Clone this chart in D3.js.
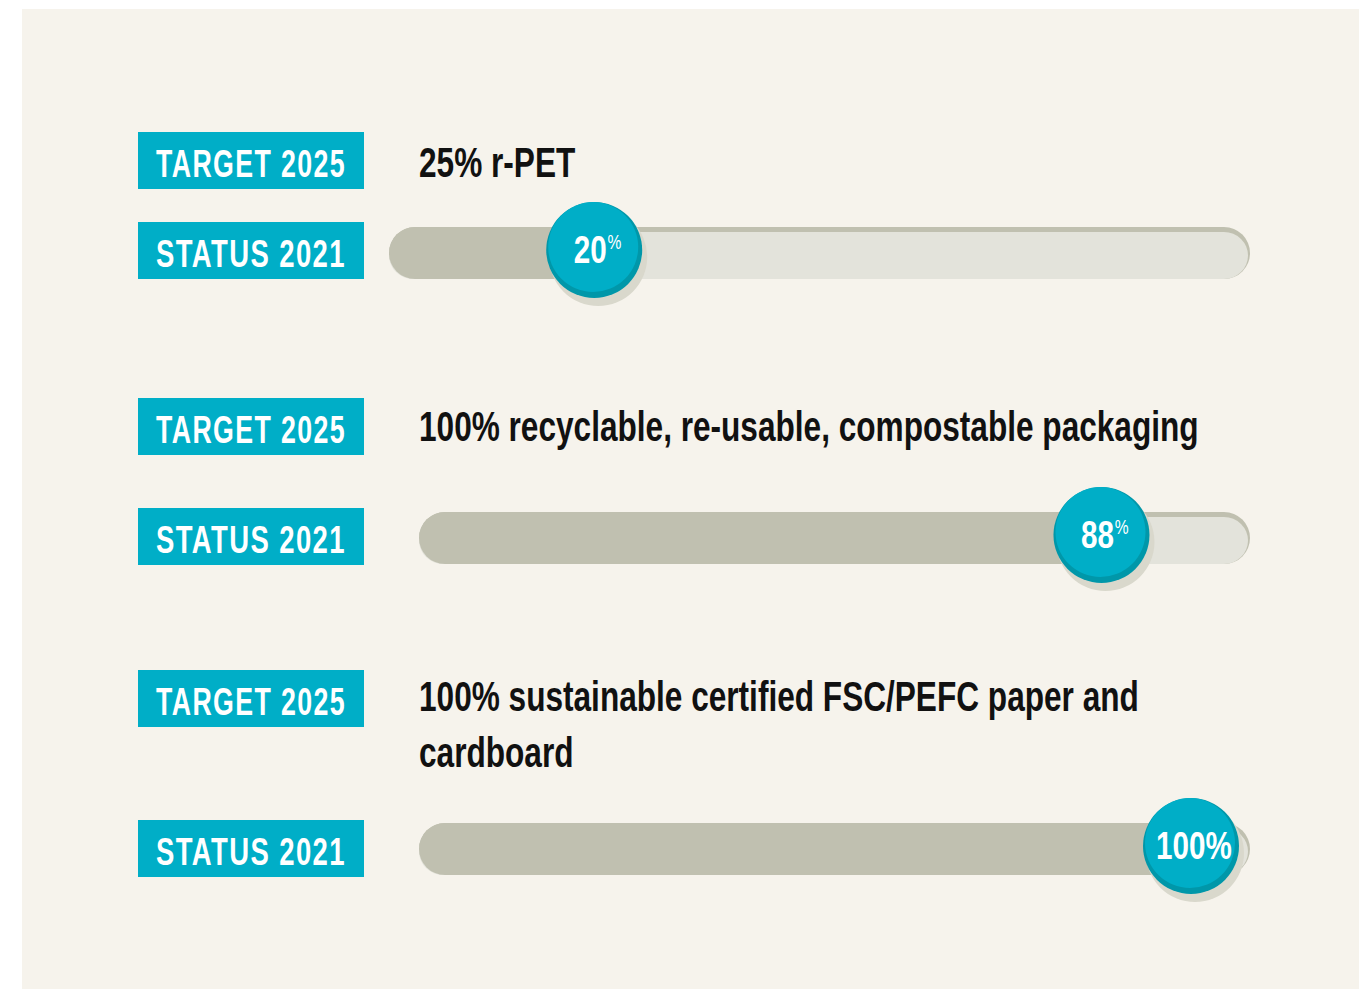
<!DOCTYPE html>
<html>
<head>
<meta charset="utf-8">
<script src="https://cdn.jsdelivr.net/npm/d3@7"></script>
<style>
  html, body { margin: 0; padding: 0; background: #ffffff; }
  svg { display: block; }
</style>
</head>
<body>
<div id="chart"></div>
<script>
// Packaging goals: target text per row and the 2021 status value
const targetLabel = "TARGET 2025";
const statusLabel = "STATUS 2021";
const targetLines = [
  ["25% r-PET"],
  ["100% recyclable, re-usable, compostable packaging"],
  ["100% sustainable certified FSC/PEFC paper and", "cardboard"]
];
const statusValues = [20, 88, 100];
const percentStyle = ["sup", "sup", "inline"];

// Layout
const W = 1359, H = 990;
const rowLayout = [
  { targetY: 132, statusY: 222, trackX0: 389, trackY: 227, titleY: 177 },
  { targetY: 398, statusY: 508, trackX0: 419, trackY: 512, titleY: 441 },
  { targetY: 670, statusY: 820, trackX0: 419, trackY: 823, titleY: 711 }
];
const badgeX = 138, badgeW = 226, badgeH = 57, badgeTextW = 190;
const trackX1 = 1250, trackH = 52;
const knobR = 48;
const FONT = "'Liberation Sans', Arial, sans-serif";
const titleCondense = 0.735;
const valueCondense = 0.78;

const C = {
  page: "#f6f3ec",
  teal: "#00aec7",
  tealDark: "#0097a9",
  fill: "#c0c0b0",
  track: "#e3e3db",
  shadow: "#d9d8cc",
  text: "#111111"
};

const x = d3.scaleLinear().domain([0, 100]).range([445, 1191]);

const svg = d3.select("#chart").append("svg")
  .attr("width", W).attr("height", H);

svg.append("rect")
  .attr("x", 22).attr("y", 9)
  .attr("width", W - 22).attr("height", 980)
  .attr("fill", C.page);

// Text drawn inside a horizontally squeezed group for a condensed face.
// anchor: 0 = start at x, 0.5 = centred on x
function condensedText(parent, px, py, factor, anchor) {
  const g = parent.append("g");
  const t = g.append("text").attr("x", 0).attr("y", 0);
  return {
    text: t,
    place(fixedWidth) {
      const w = t.node().getComputedTextLength();
      const f = fixedWidth ? fixedWidth / w : factor;
      g.attr("transform", `translate(${px - anchor * w * f},${py}) scale(${f},1)`);
    }
  };
}

function badge(g, y, label) {
  g.append("rect")
    .attr("x", badgeX).attr("y", y)
    .attr("width", badgeW).attr("height", badgeH)
    .attr("fill", C.teal);
  const ct = condensedText(g, badgeX + badgeW / 2, y + 44.5, 1, 0.5);
  ct.text
    .attr("font-family", FONT).attr("font-weight", "bold")
    .attr("font-size", 39).attr("letter-spacing", 2)
    .attr("fill", "#ffffff")
    .text(label);
  ct.place(badgeTextW);
}

rowLayout.forEach((L, i) => {
  const g = svg.append("g");
  const v = statusValues[i];

  badge(g, L.targetY, targetLabel);
  badge(g, L.statusY, statusLabel);

  // Target description
  targetLines[i].forEach((line, j) => {
    const ct = condensedText(g, 419, L.titleY + j * 56, titleCondense, 0);
    ct.text
      .attr("font-family", FONT).attr("font-weight", "bold")
      .attr("font-size", 43).attr("fill", C.text)
      .text(line);
    ct.place();
  });

  // Track: darker base with a lighter inset so a thin rim shows at the top
  const ty = L.trackY, tr = trackH / 2;
  g.append("rect")
    .attr("x", L.trackX0).attr("y", ty)
    .attr("width", trackX1 - L.trackX0).attr("height", trackH)
    .attr("rx", tr).attr("ry", tr)
    .attr("fill", C.fill);
  g.append("rect")
    .attr("x", L.trackX0).attr("y", ty + 5)
    .attr("width", trackX1 - L.trackX0 - 2).attr("height", trackH - 5)
    .attr("rx", tr - 2).attr("ry", tr - 2)
    .attr("fill", C.track);

  // Filled portion up to the status value
  const fx = x(v);
  const fillPath = d3.path();
  fillPath.moveTo(fx, ty);
  fillPath.lineTo(L.trackX0 + tr, ty);
  fillPath.arc(L.trackX0 + tr, ty + tr, tr, -Math.PI / 2, Math.PI / 2, true);
  fillPath.lineTo(fx, ty + trackH);
  fillPath.closePath();
  g.append("path").attr("d", fillPath.toString()).attr("fill", C.fill);

  // Knob
  const cy = ty + tr - 3;
  g.append("circle")
    .attr("cx", fx + 4).attr("cy", cy + 7).attr("r", knobR + 1)
    .attr("fill", C.shadow);
  g.append("circle")
    .attr("cx", fx).attr("cy", cy).attr("r", knobR)
    .attr("fill", C.tealDark);
  g.append("circle")
    .attr("cx", fx - 1).attr("cy", cy - 3).attr("r", knobR - 3)
    .attr("fill", C.teal);

  // Value label
  const ct = condensedText(g, fx + 3, cy + 13, valueCondense, 0.5);
  ct.text.attr("font-family", FONT).attr("font-weight", "bold")
    .attr("fill", "#ffffff");
  if (percentStyle[i] === "sup") {
    ct.text.append("tspan").attr("font-size", 38).text(v);
    ct.text.append("tspan").attr("font-size", 20).attr("font-weight", "normal")
      .attr("dx", 1).attr("dy", -14).text("%");
  } else {
    ct.text.append("tspan").attr("font-size", 38).text(v + "%");
  }
  ct.place();
});
</script>
</body>
</html>
